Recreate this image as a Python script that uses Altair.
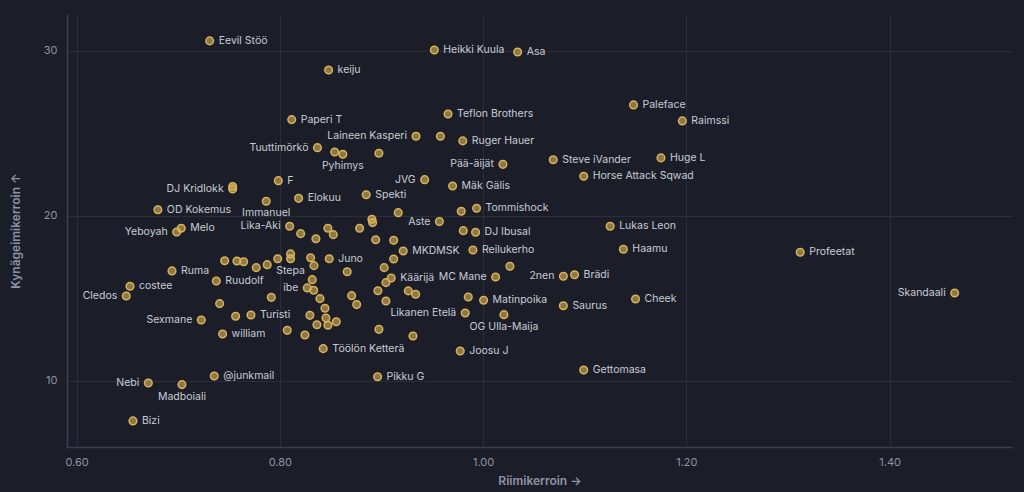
import altair as alt
import pandas as pd

# ---- data ----
NAMES = [
    "Eevil Stöö", "keiju", "Heikki Kuula", "Asa", "Paleface", "Raimssi",
    "Teflon Brothers", "Paperi T", "Laineen Kasperi", "", "Ruger Hauer",
    "Tuuttimörkö", "", "Pyhimys", "", "Pää-äijät", "Steve iVander", "Huge L",
    "Horse Attack Sqwad", "JVG", "Mäk Gälis", "F", "DJ Kridlokk", "",
    "Elokuu", "Immanuel", "Spekti", "OD Kokemus", "Tommishock", "", "",
    "Aste", "DJ Ibusal", "", "Lukas Leon", "Haamu", "Profeetat", "Skandaali",
    "Reilukerho", "MKDMSK", "", "", "", "Käärijä", "", "", "MC Mane", "2nen",
    "Brädi", "Cheek", "Saurus", "Matinpoika", "", "Likanen Etelä",
    "OG Ulla-Maija", "", "", "", "", "Joosu J", "Gettomasa", "Pikku G",
    "Töölön Ketterä", "", "Yeboyah", "Melo", "Lika-Aki", "", "", "", "", "",
    "", "", "", "", "", "", "", "", "", "", "Stepa", "", "", "Juno", "", "",
    "", "", "ibe", "", "", "", "", "", "", "", "", "", "", "", "", "Turisti",
    "", "", "Sexmane", "william", "Ruma", "Ruudolf", "costee", "Cledos",
    "@junkmail", "Nebi", "Madboiali", "Bizi",
]
RHYME = [
    0.731, 0.848, 0.952, 1.034, 1.148, 1.196,
    0.9655, 0.8117, 0.934, 0.958, 0.980,
    0.837, 0.854, 0.862, 0.8975, 1.0195, 1.069, 1.175,
    1.099, 0.9425, 0.970, 0.7985, 0.7536, 0.7536,
    0.8185, 0.7866, 0.885, 0.680, 0.9936, 0.9785, 0.9165,
    0.957, 0.9926, 0.9805, 1.125, 1.138, 1.312, 1.464,
    0.990, 0.9214, 0.912, 0.912, 0.9027, 0.9096, 0.9044, 1.0264, 1.0123, 1.079,
    1.090, 1.150, 1.079, 1.0005, 0.9854, 0.9824,
    1.0205, 0.9264, 0.9336, 0.9044, 0.931, 0.9775, 1.099, 0.8962,
    0.8427, 0.8975, 0.6985, 0.703, 0.8097, 0.8205, 0.8355, 0.8473, 0.8526, 0.8785,
    0.8906, 0.8913, 0.8943, 0.7457, 0.7578, 0.7644, 0.7768, 0.7876, 0.7979, 0.8106, 0.8106, 0.8303, 0.8336, 0.8486, 0.8663, 0.8965,
    0.8707, 0.8756, 0.827, 0.8319, 0.8333, 0.8395, 0.8444, 0.8296, 0.8454, 0.8555, 0.8365, 0.8473, 0.8073, 0.8247, 0.7916, 0.7716,
    0.7565, 0.7408, 0.7227, 0.7437, 0.6939, 0.7375, 0.6526, 0.6489,
    0.7355, 0.6706, 0.7037, 0.6555,
]
PEN = [
    30.61, 28.85, 30.06, 29.94, 26.73, 25.76,
    26.18, 25.84, 24.83, 24.83, 24.55,
    24.14, 23.88, 23.74, 23.80, 23.13, 23.41, 23.52,
    22.41, 22.20, 21.82, 22.14, 21.64, 21.79,
    21.07, 20.89, 21.29, 20.38, 20.47, 20.29, 20.20,
    19.66, 19.01, 19.11, 19.38, 17.98, 17.80, 15.33,
    17.94, 17.88, 18.53, 17.39, 16.87, 16.24, 15.96, 16.95, 16.30, 16.35,
    16.44, 14.97, 14.56, 14.89, 15.09, 14.12,
    14.02, 15.46, 15.26, 14.85, 12.73, 11.82, 10.67, 10.26,
    11.96, 13.13, 19.03, 19.26, 19.38, 18.93, 18.62, 19.26, 18.87, 19.26,
    19.80, 19.60, 18.56, 17.29, 17.27, 17.23, 16.87, 17.05, 17.41, 17.70, 17.41, 17.47, 16.99, 17.41, 16.62, 15.47,
    15.17, 14.63, 15.64, 16.14, 15.50, 14.99, 14.41, 13.98, 13.82, 13.59, 13.41, 13.38, 13.07, 12.79, 15.07, 14.00,
    13.92, 14.69, 13.70, 12.85, 16.67, 16.06, 15.74, 15.15,
    10.30, 9.88, 9.78, 7.58,
]

X_TICKS = [0.6, 0.8, 1.0, 1.2, 1.4]
Y_TICKS = [10, 20, 30]

# label placement (layout)
LEFT_LABELS = ["Laineen Kasperi", "Tuuttimörkö", "Pää-äijät", "JVG", "DJ Kridlokk",
               "Aste", "Skandaali", "MC Mane", "2nen", "Likanen Etelä", "Yeboyah",
               "Lika-Aki", "ibe", "Sexmane", "Cledos", "Nebi"]
BELOW_LABELS = ["Pyhimys", "Immanuel", "Stepa", "OG Ulla-Maija", "Madboiali"]

df = pd.DataFrame({"name": NAMES, "rhyme": RHYME, "pen": PEN})
df["side"] = ["l" if n in LEFT_LABELS else ("b" if n in BELOW_LABELS else "r") for n in NAMES]

BG = "#1b1e28"
GOLD = "#d9b259"
TXT = "#c8ccd6"
MUTED = "#8e93a3"

x_enc = alt.X(
    "rhyme:Q",
    scale=alt.Scale(domain=[0.5906, 1.5204], nice=False, zero=False),
    axis=alt.Axis(values=X_TICKS, format=".2f", title="Riimikerroin →",
                  labelPadding=9, titleY=33, titleBaseline="middle"),
)
y_enc = alt.Y(
    "pen:Q",
    scale=alt.Scale(domain=[6.0, 32.24], nice=False, zero=False),
    axis=alt.Axis(values=Y_TICKS, format="d", title="Kynägeimikerroin ↑",
                  labelPadding=10, titleAngle=270, titleX=-52, titleY=216.5,
                  titleAlign="center", titleBaseline="middle"),
)

base = alt.Chart(df)

points = base.mark_point(
    shape="circle", filled=True, size=58, fill=GOLD, fillOpacity=0.6,
    stroke=GOLD, strokeWidth=1.5, strokeOpacity=1,
).encode(x=x_enc, y=y_enc)

labeled = base.transform_filter(alt.datum.name != "")

txt_kw = dict(font="Inter", fontSize=10.5, color=TXT, baseline="middle")
right = labeled.transform_filter(alt.datum.side == "r").mark_text(
    align="left", dx=9, **txt_kw).encode(x=x_enc, y=y_enc, text="name:N")
left = labeled.transform_filter(alt.datum.side == "l").mark_text(
    align="right", dx=-9, **txt_kw).encode(x=x_enc, y=y_enc, text="name:N")
below = labeled.transform_filter(alt.datum.side == "b").mark_text(
    align="center", dy=12, **txt_kw).encode(x=x_enc, y=y_enc, text="name:N")

chart = (
    alt.layer(points, right, left, below)
    .properties(
        width=945, height=433, background=BG,
        padding={"left": 59, "top": 6, "right": 4, "bottom": 42},
        autosize=alt.AutoSizeParams(type="none"),
    )
    .configure_view(stroke=None)
    .configure_axis(
        grid=True, gridColor="#2a2e3a", gridWidth=1,
        domainColor="#3a3f4f", domainWidth=1.5,
        ticks=False, tickSize=0,
        labelColor=MUTED, labelFont="Inter", labelFontSize=11,
        titleColor=MUTED, titleFont="Inter", titleFontSize=12, titleFontWeight=600,
    )
)

chart.save("out.html", embed_options={
    "renderer": "svg", "actions": False,
    "defaultStyle": "html,body{background:#1b1e28;overflow:hidden}",
})
